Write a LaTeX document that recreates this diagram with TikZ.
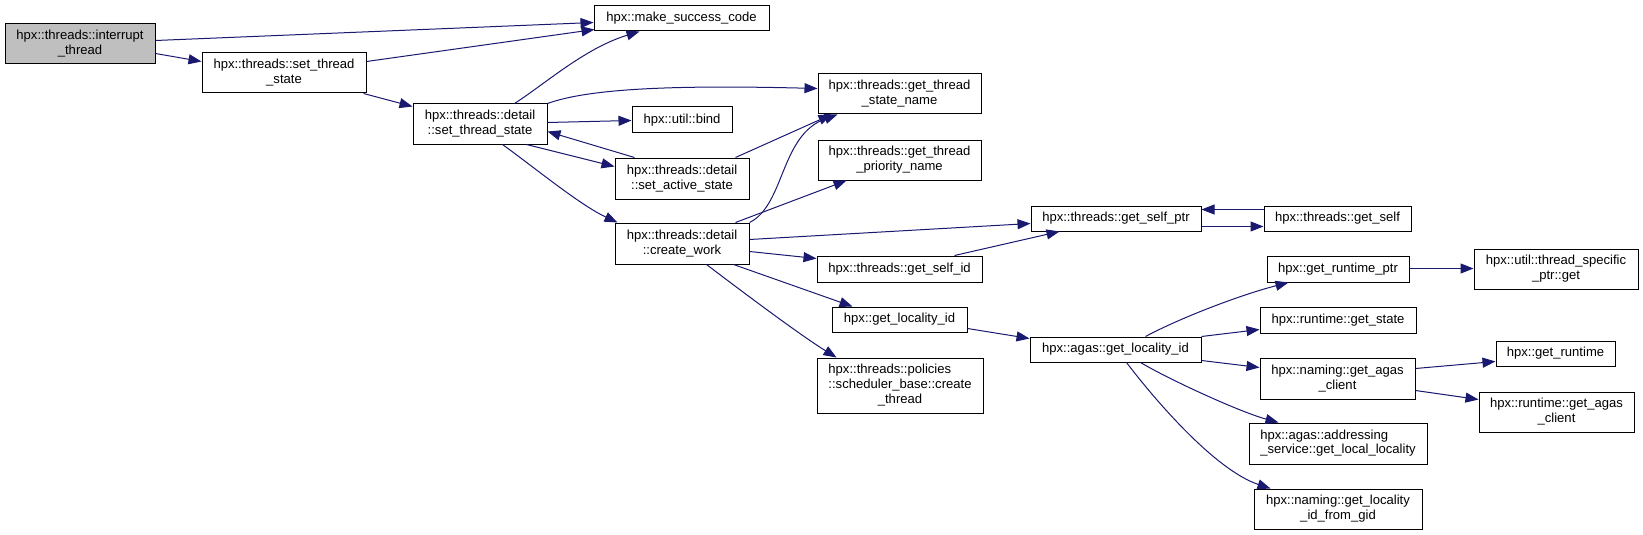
\documentclass[tikz,border=0pt]{standalone}
\usepackage{fontspec}
\setmainfont{Liberation Sans}
\usetikzlibrary{arrows.meta,calc}
\definecolor{edgec}{HTML}{191970}
\definecolor{rootfill}{HTML}{BFBFBF}
\tikzset{
  box/.style={draw=black, line width=0.75pt, fill=white, inner sep=0pt, align=center,
    font=\fontsize{9.8}{11.2}\selectfont, anchor=center},
  call/.style={draw=edgec, line width=0.75pt, -{Triangle[length=9.75pt,width=7.5pt]}},
}
\newcommand{\mkbox}[7][]{\node[box,#1,minimum width={(#5-#3)*0.75pt},minimum height={(#6-#4)*0.75pt}] (#2) at ({(#3+#5)/2},{(#4+#6)/2}) {#7};}
\begin{document}
\begin{tikzpicture}[x=0.75pt,y=-0.75pt]
\useasboundingbox (0,0) rectangle (1643,535);
\mkbox[fill=rootfill]{A}{5}{24}{155}{64}{hpx::threads::interrupt\\\_thread}
\mkbox{B}{202}{53}{366}{93}{hpx::threads::set\_thread\\\_state}
\mkbox{C}{594}{6}{769}{31}{hpx::make\_success\_code}
\mkbox{D}{413}{104}{547}{144}{hpx::threads::detail\\::set\_thread\_state}
\mkbox{E}{818}{74}{981}{114}{hpx::threads::get\_thread\\\_state\_name}
\mkbox{F}{632}{107}{732}{133}{hpx::util::bind}
\mkbox{G}{615}{158}{749}{199}{hpx::threads::detail\\::set\_active\_state}
\mkbox{H}{818}{140}{981}{180}{hpx::threads::get\_thread\\\_priority\_name}
\mkbox{I}{615}{223}{749}{264}{hpx::threads::detail\\::create\_work}
\mkbox{J}{1031}{206}{1201}{231}{hpx::threads::get\_self\_ptr}
\mkbox{K}{1264}{206}{1411}{231}{hpx::threads::get\_self}
\mkbox{L}{817}{256}{982}{282}{hpx::threads::get\_self\_id}
\mkbox{M}{832}{307}{967}{332}{hpx::get\_locality\_id}
\mkbox{N}{817}{358}{983}{413}{\begin{tabular}{@{}l@{}}hpx::threads::policies\\::scheduler\_base::create\\\multicolumn{1}{@{}c@{}}{\_thread}\end{tabular}}
\mkbox{O}{1030}{337}{1201}{362}{hpx::agas::get\_locality\_id}
\mkbox{P}{1267}{256}{1409}{282}{hpx::get\_runtime\_ptr}
\mkbox{Q}{1474}{249}{1638}{289}{hpx::util::thread\_specific\\\_ptr::get}
\mkbox{R}{1260}{307}{1416}{333}{hpx::runtime::get\_state}
\mkbox{S}{1260}{358}{1415}{399}{hpx::naming::get\_agas\\\_client}
\mkbox{T}{1496}{341}{1615}{366}{hpx::get\_runtime}
\mkbox{U}{1479}{392}{1634}{432}{hpx::runtime::get\_agas\\\_client}
\mkbox{V}{1249}{423}{1427}{464}{\begin{tabular}{@{}l@{}}hpx::agas::addressing\\\_service::get\_local\_locality\end{tabular}}
\mkbox{W}{1254}{489}{1422}{529}{hpx::naming::get\_locality\\\_id\_from\_gid}

\draw[call] ($(A.north east)+(0,17)$) -- ($(C.north west)+(0,17)$);
\draw[call] ($(A.north east)+(0,30)$) -- ($(B.north west)+(0,9)$);
\draw[call] ($(B.north east)+(0,9)$) -- ($(C.north west)+(1,24)$);
\draw[call] ($(B.south east)+(-3,0)$) -- ($(D.north west)+(0,3)$);
\draw[call] ($(D.north west)+(102,0)$) .. controls (545,84) and (585,48) .. ($(C.south west)+(46,0)$);
\draw[call] (D.north east) .. controls (590,88) and (680,85) .. ($(E.north west)+(0,15)$);
\draw[call] ($(D.north east)+(0,19)$) -- ($(F.north west)+(0,14)$);
\draw[call] ($(D.south west)+(114,0)$) -- ($(G.north west)+(0,9)$);
\draw[call] ($(G.north west)+(20,0)$) -- ($(D.north east)+(0,28)$);
\draw[call] ($(G.north west)+(121,0)$) -- ($(E.south west)+(14,0)$);
\draw[call] ($(D.south west)+(90,0)$) .. controls (535,168) and (580,205) .. ($(I.north west)+(3,0)$);
\draw[call] (I.north east) .. controls (785,205) and (780,135) .. ($(E.south west)+(20,0)$);
\draw[call] ($(I.north west)+(121,0)$) -- ($(H.south west)+(29,0)$);
\draw[call] ($(I.north east)+(0,17)$) -- ($(J.north west)+(0,18)$);
\draw[call] ($(I.north east)+(0,29)$) -- ($(L.north west)+(0,3)$);
\draw[call] ($(I.south west)+(119,0)$) -- ($(M.north west)+(21,0)$);
\draw[call] ($(I.south west)+(92,0)$) .. controls (740,290) and (800,335) .. ($(N.north west)+(20,0)$);
\draw[call] ($(L.north west)+(138,0)$) -- ($(J.south west)+(29,0)$);
\draw[call] ($(J.north east)+(0,21)$) -- ($(K.north west)+(0,21)$);
\draw[call] ($(K.north west)+(0,4)$) -- ($(J.north east)+(0,4)$);
\draw[call] ($(M.north east)+(0,22)$) -- ($(O.north west)+(0,2)$);
\draw[call] ($(O.north west)+(116,0)$) .. controls (1180,318) and (1240,295) .. ($(P.south west)+(22,0)$);
\draw[call] (O.north east) -- ($(R.north west)+(0,23)$);
\draw[call] ($(O.north east)+(0,24)$) -- ($(S.north west)+(0,10)$);
\draw[call] ($(O.south west)+(111,0)$) .. controls (1170,380) and (1240,412) .. ($(V.north west)+(30,0)$);
\draw[call] ($(O.south west)+(97,0)$) .. controls (1155,400) and (1215,470) .. ($(W.north west)+(17,0)$);
\draw[call] ($(P.north east)+(0,13)$) -- ($(Q.north west)+(0,20)$);
\draw[call] ($(S.north east)+(0,11)$) -- ($(T.north west)+(0,21)$);
\draw[call] ($(S.north east)+(0,33)$) -- ($(U.north west)+(0,8)$);
\end{tikzpicture}
\end{document}
